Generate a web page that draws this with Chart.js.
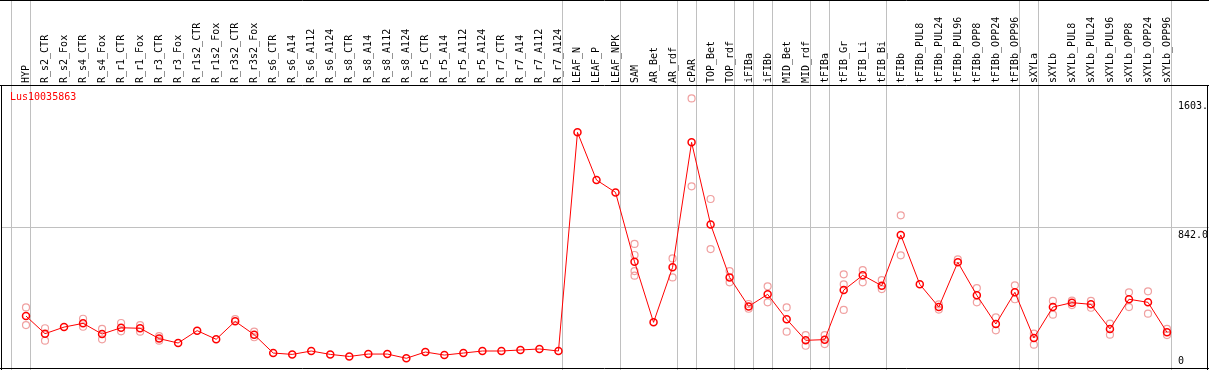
<!DOCTYPE html>
<html>
<head>
<meta charset="utf-8">
<script src="https://cdn.jsdelivr.net/npm/chart.js@4.4.1/dist/chart.umd.min.js"></script>
<style>
  html, body { margin: 0; padding: 0; background: #fff; }
  canvas { display: block; }
</style>
</head>
<body>
<canvas id="geneChart" width="1209" height="370"></canvas>
<script>
const geneName = 'Lus10035863';

const categories = [
    'HYP', 'R_s2_CTR', 'R_s2_Fox', 'R_s4_CTR', 'R_s4_Fox', 'R_r1_CTR', 'R_r1_Fox', 'R_r3_CTR', 'R_r3_Fox',
    'R_r1s2_CTR', 'R_r1s2_Fox', 'R_r3s2_CTR', 'R_r3s2_Fox', 'R_s6_CTR', 'R_s6_A14', 'R_s6_A112', 'R_s6_A124',
    'R_s8_CTR', 'R_s8_A14', 'R_s8_A112', 'R_s8_A124', 'R_r5_CTR', 'R_r5_A14', 'R_r5_A112', 'R_r5_A124',
    'R_r7_CTR', 'R_r7_A14', 'R_r7_A112', 'R_r7_A124', 'LEAF_N', 'LEAF_P', 'LEAF_NPK', 'SAM', 'AR_Bet', 'AR_rdf',
    'cPAR', 'TOP_Bet', 'TOP_rdf', 'iFIBa', 'iFIBb', 'MID_Bet', 'MID_rdf', 'tFIBa', 'tFIB_Gr', 'tFIB_Li', 'tFIB_Bi',
    'tFIBb', 'tFIBb_PUL8', 'tFIBb_PUL24', 'tFIBb_PUL96', 'tFIBb_OPP8', 'tFIBb_OPP24', 'tFIBb_OPP96',
    'sXYLa', 'sXYLb', 'sXYLb_PUL8', 'sXYLb_PUL24', 'sXYLb_PUL96', 'sXYLb_OPP8', 'sXYLb_OPP24', 'sXYLb_OPP96'
];

// mean expression (red line)
const meanValues = [
    318, 214, 253, 275, 212, 249, 246, 185, 159, 232, 181, 287, 208,
    100, 92, 112, 92, 80, 94, 94, 69, 106, 88, 100, 112, 112, 118, 124, 112,
    1401, 1120, 1047, 638, 281, 605, 1342, 858, 546, 375, 446, 299, 175,
    179, 471, 558, 497, 796, 505, 371, 635, 440, 271, 458, 189, 371, 397, 387, 242, 417, 399, 222
];

// replicates (pink circles), null where hidden under the mean
const repHigh = [
    369, 246, null, 302, 242, 277, 265, 200, null, null, null, 300, 226,
    null, null, null, null, null, null, null, null, null, null, null, null, null, null, null, null,
    null, null, null, 743, null, 658, 1601, 1008, 583, 389, 493, 369, 206,
    206, 564, 589, 530, 912, null, 387, 652, 483, 310, 499, 214, 407, 409, 407, 273, 458, 464, 242
];
const repLow = [
    265, 173, null, 255, 181, 228, 226, 173, null, null, null, null, 193,
    null, null, null, null, null, null, null, null, null, null, null, null, null, null, null, null,
    null, null, null, 556, null, 546, 1083, 713, 517, 361, 399, 226, 143,
    153, 354, 517, 477, 676, null, 356, null, 399, 234, 417, 149, 326, 383, 367, 208, 371, 332, 206
];
const repExtra = [['SAM', 678], ['SAM', 583], ['tFIB_Gr', 505]];

// last category of each group (gray separators), '' = before the first
const groupEnds = ['', 'HYP', 'R_r7_A124', 'LEAF_NPK', 'AR_rdf', 'cPAR', 'TOP_rdf', 'iFIBa', 'iFIBb',
    'MID_rdf', 'tFIBa', 'tFIB_Bi', 'tFIBb_OPP96', 'sXYLa', 'sXYLb_OPP96'];

const yTicks = [0, 842, 1603];
const yTickLabels = ['0', '842.0', '1603.'];

const toPoints = arr => arr.map((v, i) => ({ x: i, y: v })).filter(p => p.y !== null);

const MONO = '10px "DejaVu Sans Mono", monospace';

const frame = {
    id: 'frame',
    beforeDatasetsDraw(chart) {
        const ctx = chart.ctx;
        const xs = chart.scales.x, ys = chart.scales.y;
        const W = chart.width, H = chart.height;
        ctx.save();
        ctx.lineWidth = 1;
        ctx.strokeStyle = '#c0c0c0';
        groupEnds.forEach(name => {
            const i = categories.indexOf(name);
            const px = Math.round(xs.getPixelForValue(i)) + 4.5;
            ctx.beginPath();
            ctx.moveTo(px, 0);
            ctx.lineTo(px, H);
            ctx.stroke();
        });
        const gy = Math.round(ys.getPixelForValue(842)) + 0.5;
        ctx.beginPath();
        ctx.moveTo(1, gy);
        ctx.lineTo(W, gy);
        ctx.stroke();

        ctx.strokeStyle = '#000';
        const top = chart.chartArea.top;
        ctx.beginPath();
        ctx.moveTo(0, 0.5); ctx.lineTo(W, 0.5);
        ctx.moveTo(0, top + 0.5); ctx.lineTo(W, top + 0.5);
        ctx.moveTo(1.5, top); ctx.lineTo(1.5, H);
        ctx.moveTo(W - 1.5, top); ctx.lineTo(W - 1.5, H);
        ctx.moveTo(0, H - 1.5); ctx.lineTo(W, H - 1.5);
        ctx.stroke();
        ctx.restore();
    },
    afterDatasetsDraw(chart) {
        const ctx = chart.ctx;
        const xs = chart.scales.x, ys = chart.scales.y;
        ctx.save();
        ctx.font = MONO;
        ctx.fillStyle = '#000';
        ctx.textAlign = 'left';
        ctx.textBaseline = 'middle';
        categories.forEach((c, i) => {
            ctx.save();
            ctx.translate(Math.round(xs.getPixelForValue(i)), 83);
            ctx.rotate(-Math.PI / 2);
            ctx.fillText(c, 0, 0);
            ctx.restore();
        });

        ctx.textBaseline = 'top';
        yTicks.forEach((v, k) => {
            let py = ys.getPixelForValue(v) + 3;
            if (py > chart.height - 14) py = chart.height - 14;
            ctx.fillText(yTickLabels[k], 1178, py);
        });

        ctx.fillStyle = '#ff0000';
        ctx.textBaseline = 'middle';
        ctx.fillText(geneName, 10, 97);
        ctx.restore();
    }
};

new Chart(document.getElementById('geneChart'), {
    type: 'line',
    data: {
        datasets: [
            {
                label: geneName,
                data: toPoints(meanValues),
                borderColor: '#ff0000',
                borderWidth: 1,
                pointRadius: 3.5,
                pointBorderWidth: 1.5,
                pointBorderColor: '#ff0000',
                pointBackgroundColor: 'rgba(0,0,0,0)',
                tension: 0,
                order: 0
            },
            {
                label: 'rep high',
                data: toPoints(repHigh),
                showLine: false,
                pointRadius: 3.5,
                pointBorderWidth: 1.2,
                pointBorderColor: '#f0a0a0',
                pointBackgroundColor: 'rgba(0,0,0,0)',
                order: 1
            },
            {
                label: 'rep low',
                data: toPoints(repLow),
                showLine: false,
                pointRadius: 3.5,
                pointBorderWidth: 1.2,
                pointBorderColor: '#f0a0a0',
                pointBackgroundColor: 'rgba(0,0,0,0)',
                order: 1
            },
            {
                label: 'rep extra',
                data: repExtra.map(r => ({ x: categories.indexOf(r[0]), y: r[1] })),
                showLine: false,
                pointRadius: 3.5,
                pointBorderWidth: 1.2,
                pointBorderColor: '#f0a0a0',
                pointBackgroundColor: 'rgba(0,0,0,0)',
                order: 1
            }
        ]
    },
    options: {
        responsive: false,
        animation: false,
        devicePixelRatio: 1,
        layout: { autoPadding: false, padding: { top: 85, left: 1, right: 1, bottom: 0 } },
        plugins: { legend: { display: false }, tooltip: { enabled: false } },
        scales: {
            x: { type: 'linear', display: false, min: -1.3146, max: 62.156 },
            y: { type: 'linear', display: false, min: 0, max: 1680 }
        }
    },
    plugins: [frame]
});
</script>
</body>
</html>
